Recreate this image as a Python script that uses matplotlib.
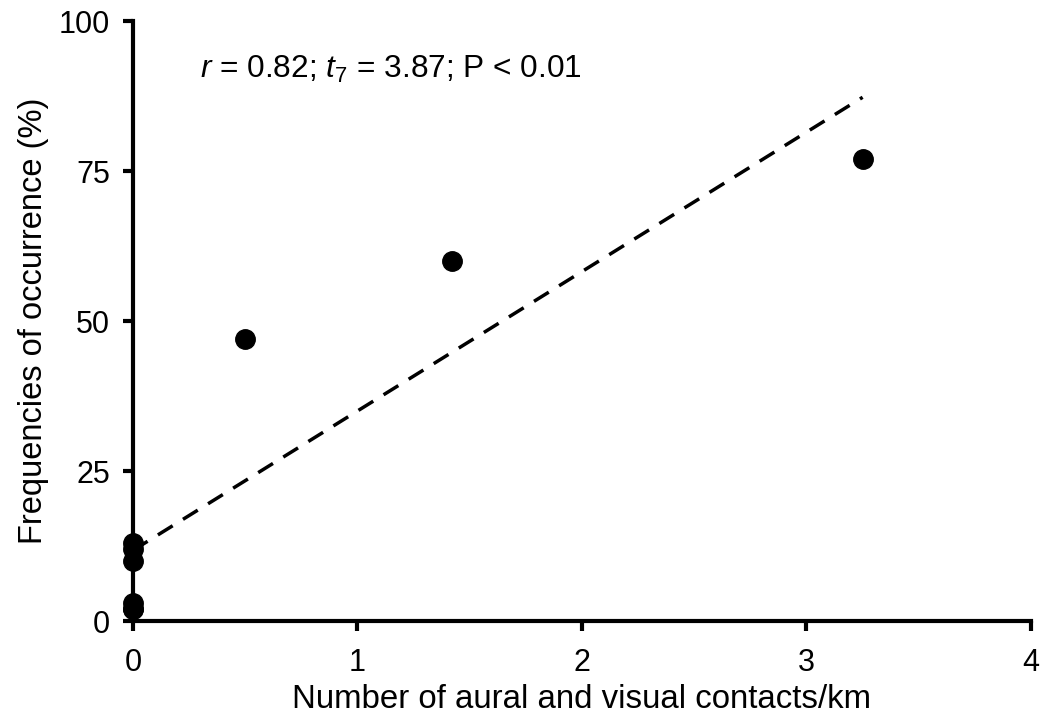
import numpy as np
import matplotlib
matplotlib.use("Agg")
import matplotlib.pyplot as plt

plt.rcParams['font.family'] = ['Liberation Sans', 'DejaVu Sans']
plt.rcParams['mathtext.fontset'] = 'custom'
plt.rcParams['mathtext.rm'] = 'Liberation Sans'
plt.rcParams['mathtext.it'] = 'Liberation Sans:italic'

# contacts per km and frequency of occurrence (%)
contacts = [0, 0, 0, 0, 0, 0, 0.5, 1.42, 3.25]
frequency = [13, 12, 10, 3, 2, 2, 47, 60, 77]
x_ticks = [0, 1, 2, 3, 4]
y_ticks = [0, 25, 50, 75, 100]

fig = plt.figure(figsize=(10.46, 7.25), dpi=100)
ax = fig.add_axes([0.127, 0.1434, 0.8587, 0.8276])

ax.plot(contacts, frequency, 'o', color='black', markersize=14, clip_on=False, zorder=3)

# linear fit drawn over the data range
slope, intercept = np.polyfit(contacts, frequency, 1)
xs = np.array([min(contacts), max(contacts)])
ax.plot(xs, slope * xs + intercept, '--', color='black', linewidth=2.5, dashes=(5, 3.5))

ax.set_xlim(0, 4)
ax.set_ylim(0, 100)
ax.set_xticks(x_ticks)
ax.set_yticks(y_ticks)
ax.tick_params(labelsize=22, direction='out', length=7.5, width=3)
ax.tick_params(axis='x', pad=12)
ax.tick_params(axis='y', pad=9)
for s in ['top', 'right']:
    ax.spines[s].set_visible(False)
for s in ['left', 'bottom']:
    ax.spines[s].set_linewidth(3)

ax.set_xlabel("Number of aural and visual contacts/km", fontsize=23.8, labelpad=4)
ax.set_ylabel("Frequencies of occurrence (%)", fontsize=23.5, labelpad=7)
ax.text(0.3, 92, r"$r$ = 0.82; $t_7$ = 3.87; P < 0.01", fontsize=22.8,
        ha='left', va='center')

fig.savefig("out.png", dpi=100)
